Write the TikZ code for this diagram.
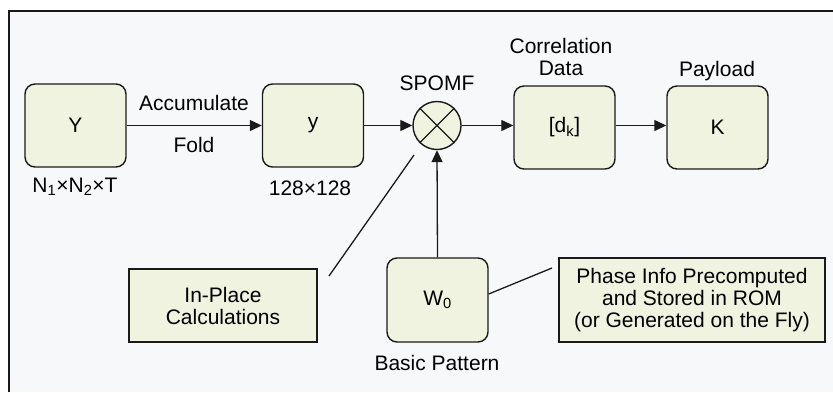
\documentclass[tikz,border=0pt]{standalone}
\usepackage{fontspec}
\setmainfont{Liberation Sans}
\usetikzlibrary{arrows.meta}
\definecolor{bg}{HTML}{F7F8FA}
\definecolor{boxfill}{HTML}{EFF3E0}
\definecolor{ink}{HTML}{1A1A1A}
\tikzset{
  rbox/.style={draw=ink, line width=1.4pt, fill=boxfill, rounded corners=10pt,
    minimum width=101pt, minimum height=83pt, inner sep=0pt, font=\fontsize{21}{22}\selectfont},
  sbox/.style={draw=ink, line width=1.4pt, fill=boxfill, inner sep=0pt,
    align=center, font=\fontsize{21}{22}\selectfont},
  lbl/.style={inner sep=0pt, align=center, font=\fontsize{21}{22}\selectfont},
  conn/.style={draw=ink, line width=1.3pt},
  arr/.style={conn, -{Triangle[length=12pt,width=11pt]}},
}
\begin{document}
\begin{tikzpicture}[x=1pt,y=-1pt]
\useasboundingbox (0,0) rectangle (833,392);
\fill[white] (0,0) rectangle (833,392);
\fill[bg] (9,11) rectangle (833,392);
\draw[ink, line width=1.8pt] (9,392) -- (9,11) -- (833,11);

\node[rbox] (Y) at (75.5,125.5) {Y};
\node[rbox] (y) at (313,125.5) {y};
\node[circle, draw=ink, line width=1.4pt, fill=boxfill, minimum size=48pt, inner sep=0pt] (sp) at (437,125.5) {};
\draw[ink, line width=1.2pt] (sp.45) -- (sp.225) (sp.135) -- (sp.315);
\node[rbox] (dk) at (564.5,127.5) {[d\textsubscript{k}]};
\node[rbox] (K) at (717.5,127.5) {K};
\node[rbox, minimum height=84pt] (W) at (437.5,300) {W\textsubscript{0}};
\node[sbox, minimum width=188pt, minimum height=73pt] (ip) at (223,305.5) {In-Place\\Calculations};
\node[sbox, minimum width=266pt, minimum height=84pt] (ph) at (692,300) {Phase Info Precomputed\\and Stored in ROM\\(or Generated on the Fly)};

\node[lbl] (acc) at (194,103) {Accumulate};
\node[lbl] (fold) at (194,145) {Fold};
\node[lbl] (n) at (75,187) {N\textsubscript{1}×N\textsubscript{2}×T};
\node[lbl] (s128) at (310,188) {128×128};
\node[lbl] (spl) at (437,83) {SPOMF};
\node[lbl] (corr) at (561,57) {Correlation\\Data};
\node[lbl] (pay) at (717,71) {Payload};
\node[lbl] (bp) at (437,363) {Basic Pattern};

\coordinate (ipend) at (329,276);
\coordinate (ipstart) at (414,155);
\coordinate (phend) at (552,268);

\draw[arr] (Y.east) -- (y.west);
\draw[arr] (y.east) -- (sp.west);
\draw[arr] (sp.east) -- (sp.east -| dk.west);
\draw[arr] (dk.east |- sp.east) -- (K.west |- sp.east);
\draw[arr] (W.north) -- (sp.south);
\draw[conn] (ipend) -- (ipstart);
\draw[conn] (W.east |- 0,294) -- (phend);
\end{tikzpicture}
\end{document}
